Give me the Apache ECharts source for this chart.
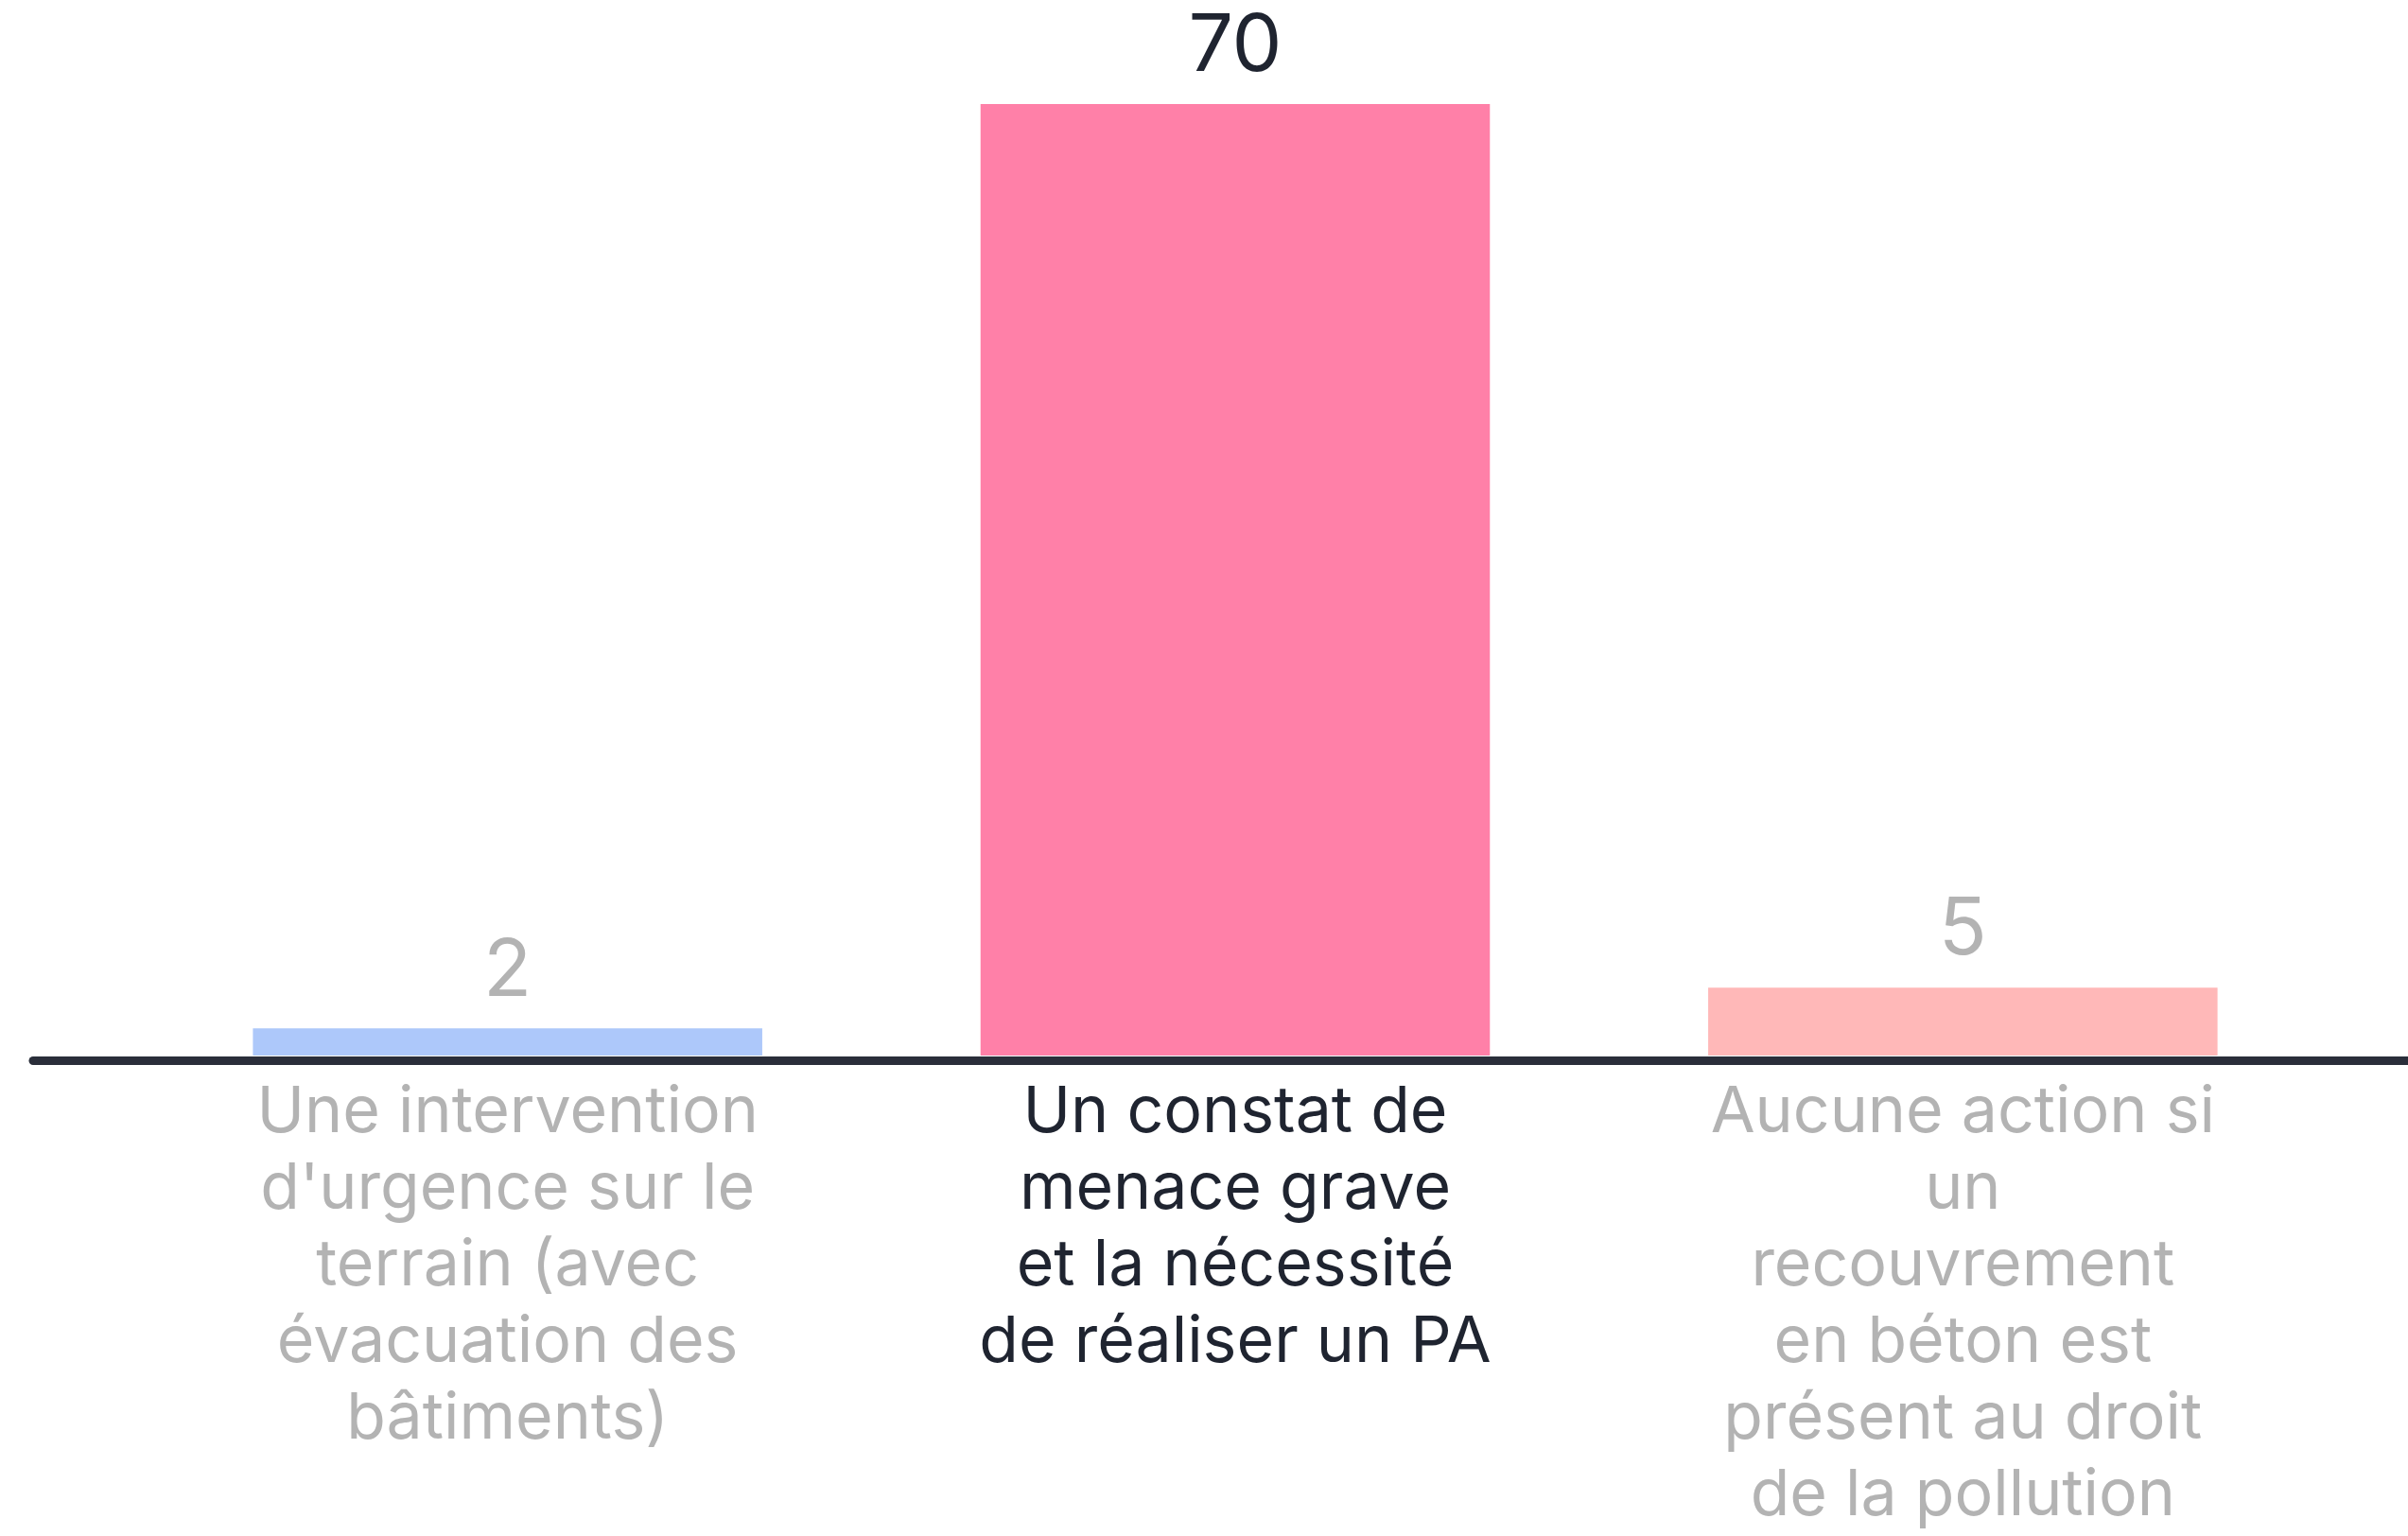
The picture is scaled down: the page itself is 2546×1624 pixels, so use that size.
<!DOCTYPE html>
<html>
<head>
<meta charset="utf-8">
<style>html,body{margin:0;padding:0;background:#fff;}#chart{width:2546px;height:1624px;}</style>
<script src="https://cdn.jsdelivr.net/npm/echarts@6/dist/echarts.min.js"></script>
</head>
<body>
<div id="chart"></div>
<script>
const categories = [
  "Une intervention\nd'urgence sur le\nterrain (avec\névacuation des\nbâtiments)",
  "Un constat de\nmenace grave\net la nécessité\nde réaliser un PA",
  "Aucune action si\nun\nrecouvrement\nen béton est\nprésent au droit\nde la pollution"
];
const values = [2, 70, 5];
const barColors = ["#adc8fa", "#ff80a8", "#ffb8b8"];
const labelColors = ["#b3b3b3", "#1f2430", "#b3b3b3"];

const chart = echarts.init(document.getElementById('chart'));
const FONT = 'Inter, "Noto Sans", sans-serif';
chart.setOption({
  animation: false,
  grid: [
    {left: 152, right: 86, top: 110, bottom: 508},
    {left: 35, right: 0, top: 110, bottom: 503}
  ],
  xAxis: [
    {
      type: 'category', data: categories, gridIndex: 0,
      axisLine: {show: false}, axisTick: {show: false},
      axisLabel: {
        interval: 0, margin: 20, fontSize: 68, lineHeight: 81,
        fontFamily: FONT, letterSpacing: -1.5,
        color: function (v, i) { return labelColors[i]; }
      }
    },
    {
      type: 'value', gridIndex: 1, min: 0, max: 1,
      axisLine: {show: true, lineStyle: {color: '#2a2e3a', width: 9}},
      axisTick: {show: false}, axisLabel: {show: false}, splitLine: {show: false}
    }
  ],
  yAxis: [
    {type: 'value', gridIndex: 0, min: 0, max: 70, show: false, splitLine: {show: false}},
    {type: 'value', gridIndex: 1, show: false, splitLine: {show: false}}
  ],
  series: [{
    type: 'bar', xAxisIndex: 0, yAxisIndex: 0, barWidth: '70%',
    data: values.map((v, i) => ({
      value: v,
      itemStyle: {color: barColors[i]},
      label: {color: labelColors[i]}
    })),
    label: {show: true, position: 'top', distance: 18, fontSize: 84, fontFamily: FONT}
  }]
});
</script>
</body>
</html>
